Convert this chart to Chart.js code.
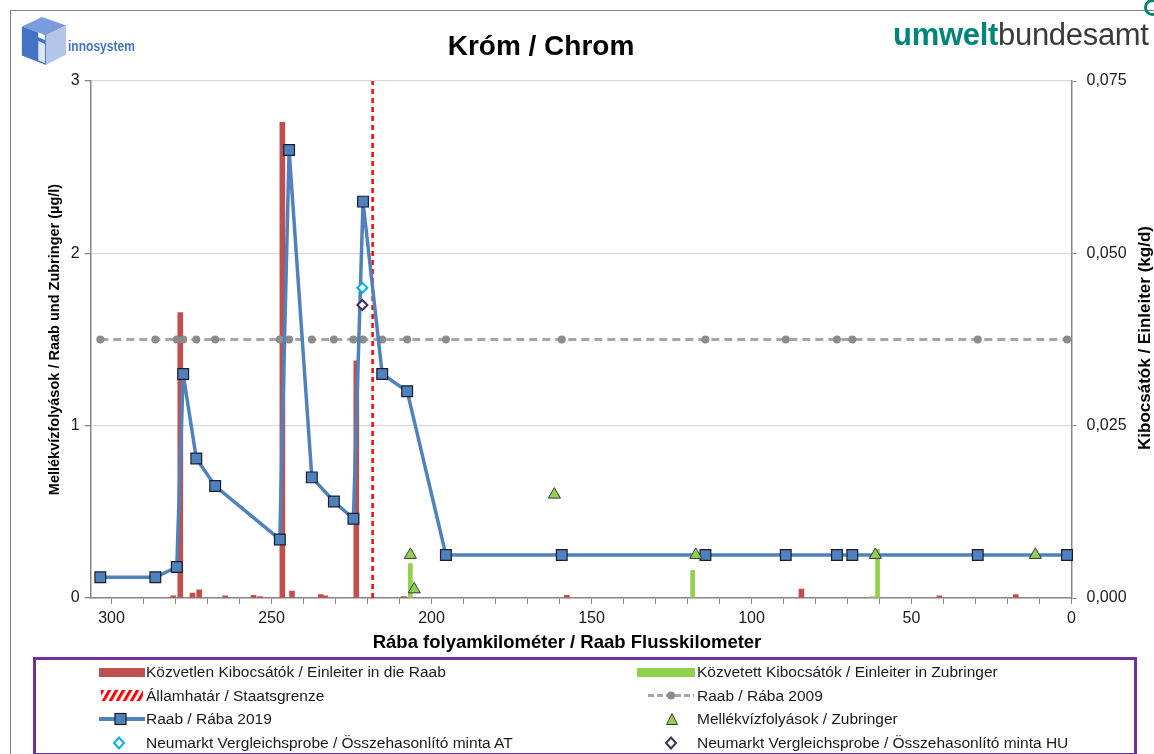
<!DOCTYPE html>
<html>
<head>
<meta charset="utf-8">
<script src="https://cdn.jsdelivr.net/npm/chart.js@4.4.1/dist/chart.umd.min.js"></script>
<style>
  body { margin: 0; background: #fff; font-family: "Liberation Sans", Arial, sans-serif; }
  #page { position: relative; width: 1154px; height: 754px; overflow: hidden; }
  #chart { position: absolute; left: 0; top: 0; }
  .abs { position: absolute; white-space: nowrap; }
  .lg { position: absolute; font-size: 15.5px; line-height: 20px; color: #1a1a1a; white-space: nowrap; }
  .sym { position: absolute; }
</style>
</head>
<body>
<div id="page">
  <canvas id="chart" width="1154" height="754"></canvas>

  <!-- frame -->
  <div class="abs" style="left:10px;top:10px;width:1200px;height:800px;border-left:1.5px solid #7f7f7f;border-top:1.5px solid #7f7f7f;"></div>

  <!-- innosystem logo -->
  <svg class="abs" style="left:19px;top:15px" width="50" height="52" viewBox="0 0 50 54">
    <polygon points="2,12 23,2 48,11 27,21" fill="#7B9CDC"/>
    <polygon points="2,12 27,21 27,52 2,42" fill="#4472C4"/>
    <polygon points="27,21 48,11 48,41 27,52" fill="#B4C6E7"/>
    <polygon points="19,27 26,30 26,50 19,47" fill="#DCE6F6"/>
    <polygon points="19,18 26,21 26,26 19,23" fill="#FFFFFF"/>
  </svg>
  <div class="abs" style="left:68px;top:38px;font-size:14px;font-weight:bold;color:#4472C4;transform:scaleX(0.86);transform-origin:left center;">innosystem</div>

  <!-- umweltbundesamt logo -->
  <div class="abs" style="left:893px;top:17px;font-size:31px;line-height:36px;letter-spacing:-0.3px;">
    <span style="color:#00857A;font-weight:bold;">umwelt</span><span style="color:#3a3a3a;">bundesamt</span>
  </div>
  <div class="abs" style="left:1144px;top:-1px;width:11px;height:11px;border:3px solid #00857A;border-radius:50%;"></div>

  <!-- title -->
  <div class="abs" style="left:541px;top:31px;transform:translateX(-50%);font-size:28px;line-height:30px;font-weight:bold;color:#000;">Króm / Chrom</div>

  <!-- axis titles drawn as text -->
  <div class="abs" style="left:567px;top:642px;transform:translate(-50%,-50%);font-size:18.5px;font-weight:bold;color:#000;">Rába folyamkilométer / Raab Flusskilometer</div>
  <div class="abs" style="left:1145px;top:338px;transform:translate(-50%,-50%) rotate(-90deg);font-size:17px;font-weight:bold;color:#000;">Kibocsátók / Einleiter (kg/d)</div>

  <!-- legend -->
  <div class="abs" style="left:33px;top:657px;width:1098px;height:93px;border:3px solid #7030A0;"></div>

  <svg class="sym" style="left:99px;top:668px" width="46" height="9"><rect x="0" y="0" width="46" height="9" fill="#C0504D"/></svg>
  <div class="lg" style="left:146px;top:662px">Közvetlen Kibocsátók / Einleiter in die Raab</div>

  <svg class="sym" style="left:637px;top:668px" width="58" height="9"><rect x="0" y="0" width="58" height="9" fill="#92D050"/></svg>
  <div class="lg" style="left:697px;top:662px">Közvetett Kibocsátók / Einleiter in Zubringer</div>

  <svg class="sym" style="left:101px;top:690px" width="42" height="11">
    <defs><pattern id="hatch" width="7" height="11" patternUnits="userSpaceOnUse" patternTransform="skewX(-30)"><rect x="0" y="0" width="3.5" height="11" fill="#FF0000"/></pattern></defs>
    <rect x="0" y="0" width="42" height="11" fill="url(#hatch)"/>
  </svg>
  <div class="lg" style="left:146px;top:686px">Államhatár / Staatsgrenze</div>

  <svg class="sym" style="left:648px;top:690px" width="46" height="11">
    <line x1="0" y1="5.5" x2="46" y2="5.5" stroke="#A6A6A6" stroke-width="3" stroke-dasharray="6,3"/>
    <circle cx="23" cy="5.5" r="4" fill="#8C8C8C"/>
  </svg>
  <div class="lg" style="left:697px;top:686px">Raab / Rába 2009</div>

  <svg class="sym" style="left:99px;top:712px" width="46" height="14">
    <line x1="0" y1="7" x2="46" y2="7" stroke="#4F81BD" stroke-width="4"/>
    <rect x="16" y="1.5" width="11" height="11" fill="#4F81BD" stroke="#1c1c2c" stroke-width="1.2"/>
  </svg>
  <div class="lg" style="left:146px;top:709px">Raab / Rába 2019</div>

  <svg class="sym" style="left:665px;top:712px" width="14" height="14">
    <polygon points="7,1.5 12.5,12.5 1.5,12.5" fill="#92D050" stroke="#3a3a3a" stroke-width="1"/>
  </svg>
  <div class="lg" style="left:697px;top:709px">Mellékvízfolyások / Zubringer</div>

  <svg class="sym" style="left:112px;top:736px" width="14" height="14">
    <polygon points="7,1.5 12,7 7,12.5 2,7" fill="#fff" stroke="#00B0F0" stroke-width="2"/>
  </svg>
  <div class="lg" style="left:146px;top:733px">Neumarkt Vergleichsprobe / Összehasonlító minta AT</div>

  <svg class="sym" style="left:664px;top:736px" width="14" height="14">
    <polygon points="7,1.5 12,7 7,12.5 2,7" fill="#fff" stroke="#403152" stroke-width="2"/>
  </svg>
  <div class="lg" style="left:697px;top:733px">Neumarkt Vergleichsprobe / Összehasonlító minta HU</div>
</div>

<script>
// river km of the Raab sampling points (same stations for 2009 and 2019)
const kmRaab = [303.5, 286.3, 279.6, 277.6, 273.5, 267.6, 247.4, 244.5, 237.4, 230.5, 224.4,
                221.4, 215.4, 207.6, 195.5, 159.3, 114.4, 89.3, 73.3, 68.5, 29.3, 1.4];
const raab2019 = [0.12, 0.12, 0.18, 1.30, 0.81, 0.65, 0.34, 2.60, 0.70, 0.56, 0.46,
                  2.30, 1.30, 1.20, 0.25, 0.25, 0.25, 0.25, 0.25, 0.25, 0.25, 0.25];
const raab2009 = [1.5, 1.5, 1.5, 1.5, 1.5, 1.5, 1.5, 1.5, 1.5, 1.5, 1.5,
                  1.5, 1.5, 1.5, 1.5, 1.5, 1.5, 1.5, 1.5, 1.5, 1.5, 1.5];

// direct dischargers into the Raab (kg/d)
const kmDirect = [280.7, 278.5, 274.7, 272.6, 264.5, 255.6, 253.5, 246.6, 243.6, 234.6, 233.2,
                  223.5, 208.7, 157.7, 84.4, 41.3, 17.4];
const loadDirect = [0.0003, 0.0414, 0.0007, 0.0012, 0.0003, 0.0004, 0.0002, 0.0690, 0.0010, 0.0005, 0.0003,
                    0.0344, 0.0002, 0.0004, 0.0013, 0.0003, 0.0005];

// dischargers into tributaries (kg/d)
const kmIndirect = [206.6, 118.4, 62.2, 60.6];
const loadIndirect = [0.0050, 0.0040, 0.0002, 0.0071];

// tributaries (µg/l)
const kmTrib = [206.6, 205.4, 161.6, 117.4, 61.3, 11.3];
const tribValues = [0.25, 0.05, 0.60, 0.25, 0.25, 0.25];

// Neumarkt comparison samples
const kmNeumarkt = [221.6];
const neumarktAT = [1.80];
const neumarktHU = [1.70];

// state border
const kmBorder = [218.4, 218.4];
const borderSpan = [0, 3];

const leftTickLabels = ['0', '1', '2', '3'];
const rightTickLabels = ['0,000', '0,025', '0,050', '0,075'];

const pts = (xs, ys) => xs.map((x, i) => ({ x: x, y: ys[i] }));

const axisColor = '#868686';
Chart.defaults.font.family = '"Liberation Sans", Arial, sans-serif';
Chart.defaults.color = '#1a1a1a';

new Chart(document.getElementById('chart'), {
    type: 'line',
    data: {
        datasets: [
            {
                label: 'Mellékvízfolyások / Zubringer',
                data: pts(kmTrib, tribValues),
                yAxisID: 'y', showLine: false,
                pointStyle: 'triangle', pointRadius: 7,
                pointBackgroundColor: '#92D050', pointBorderColor: '#3a3a3a', pointBorderWidth: 1,
                order: 0, clip: false
            },
            {
                label: 'Neumarkt AT',
                data: pts(kmNeumarkt, neumarktAT),
                yAxisID: 'y', showLine: false,
                pointStyle: 'rectRot', pointRadius: 5,
                pointBackgroundColor: '#fff', pointBorderColor: '#00B0F0', pointBorderWidth: 2,
                order: 0
            },
            {
                label: 'Neumarkt HU',
                data: pts(kmNeumarkt, neumarktHU),
                yAxisID: 'y', showLine: false,
                pointStyle: 'rectRot', pointRadius: 5,
                pointBackgroundColor: '#fff', pointBorderColor: '#403152', pointBorderWidth: 2,
                order: 0
            },
            {
                label: 'Raab / Rába 2019',
                data: pts(kmRaab, raab2019),
                yAxisID: 'y',
                borderColor: '#4F81BD', borderWidth: 3.5, tension: 0,
                pointStyle: 'rect', pointRadius: 7.6,
                pointBackgroundColor: '#4F81BD', pointBorderColor: '#1c1c2c', pointBorderWidth: 1.2,
                order: 1, clip: false
            },
            {
                label: 'Államhatár / Staatsgrenze',
                data: pts(kmBorder, borderSpan),
                yAxisID: 'y',
                borderColor: '#FF0000', borderWidth: 2.5, borderDash: [5, 4],
                pointRadius: 0,
                order: 2
            },
            {
                label: 'Raab / Rába 2009',
                data: pts(kmRaab, raab2009),
                yAxisID: 'y',
                borderColor: '#A6A6A6', borderWidth: 3, borderDash: [8, 5],
                pointStyle: 'circle', pointRadius: 4,
                pointBackgroundColor: '#8C8C8C', pointBorderWidth: 0,
                order: 3
            },
            {
                type: 'bar',
                label: 'Közvetlen Kibocsátók / Einleiter in die Raab',
                data: pts(kmDirect, loadDirect),
                yAxisID: 'y2',
                backgroundColor: '#C0504D', barThickness: 5, grouped: false,
                order: 10
            },
            {
                type: 'bar',
                label: 'Közvetett Kibocsátók / Einleiter in Zubringer',
                data: pts(kmIndirect, loadIndirect),
                yAxisID: 'y2',
                backgroundColor: '#92D050', barThickness: 4, grouped: false,
                order: 10
            }
        ]
    },
    options: {
        responsive: false,
        animation: false,
        events: [],
        layout: { padding: { left: 10, right: 0, top: 81, bottom: 100 } },
        plugins: { legend: { display: false }, tooltip: { enabled: false }, title: { display: false } },
        scales: {
            x: {
                type: 'linear', min: 0, max: 306.5, reverse: true, offset: false,
                afterFit: s => { s.height = 56; },
                ticks: {
                    stepSize: 10, includeBounds: false, autoSkip: false, maxRotation: 0, padding: 5,
                    font: { size: 16 }, color: '#1a1a1a',
                    callback: v => (Math.round(v) % 50 === 0 ? String(Math.round(v)) : '')
                },
                grid: { offset: false, drawOnChartArea: false, drawTicks: true, tickLength: 6, color: axisColor },
                border: { color: axisColor, width: 1.5 }
            },
            y: {
                position: 'left', min: 0, max: 3,
                afterFit: s => { s.width = 80.7; },
                ticks: {
                    stepSize: 1, padding: 5, font: { size: 16 }, color: '#1a1a1a',
                    callback: (v, i) => leftTickLabels[i]
                },
                grid: { color: '#D9D9D9', lineWidth: 1.3, drawTicks: true, tickLength: 6, tickColor: axisColor },
                border: { color: axisColor, width: 1.5 },
                title: {
                    display: true, text: 'Mellékvízfolyások / Raab und Zubringer (µg/l)',
                    font: { size: 14.5, weight: 'bold' }, color: '#000', padding: { top: 36, bottom: 0 }
                }
            },
            y2: {
                position: 'right', min: 0, max: 0.075,
                afterFit: s => { s.width = 82.5; },
                ticks: {
                    stepSize: 0.025, padding: 10, font: { size: 16 }, color: '#1a1a1a',
                    callback: (v, i) => rightTickLabels[i]
                },
                grid: { drawOnChartArea: false, drawTicks: true, tickLength: 5, color: axisColor },
                border: { color: axisColor, width: 1.5 }
            }
        }
    }
});
</script>
</body>
</html>
